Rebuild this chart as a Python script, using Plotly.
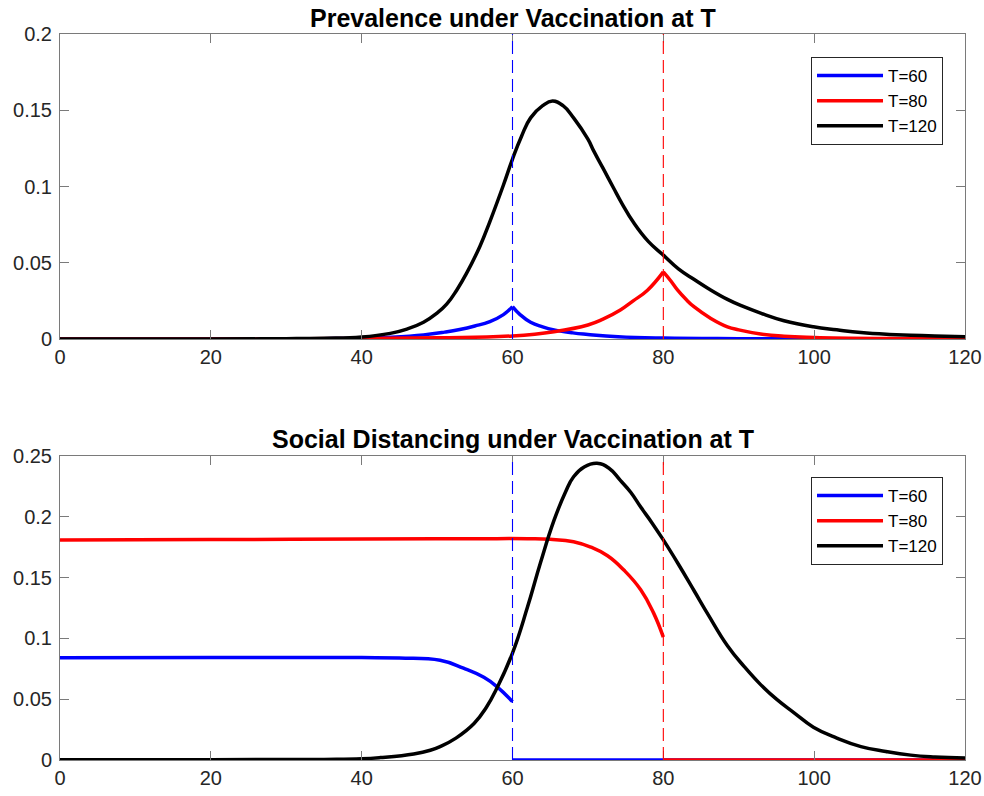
import plotly.graph_objects as go

# ---------------- data ----------------
# Prevalence (top panel)
t_prev_60 = [0, 20, 35, 40, 44, 48.2, 51, 53, 55, 57, 58.8, 60,
             60, 61, 62.4, 64, 65.5, 68, 70, 74, 80, 90, 100, 120]
prev_60 = [0, 0, 0.0002, 0.0005, 0.0012, 0.0027, 0.0045, 0.0062, 0.0085, 0.0114, 0.016, 0.0212,
           0.0212, 0.016, 0.011, 0.008, 0.006, 0.004, 0.003, 0.0015, 0.0006, 0.0002, 0.0001, 0]
split_prev_60 = 12

t_prev_80 = [0, 20, 40, 50, 55, 60, 65.5, 70, 72, 74.3, 76, 77.9, 80,
             80, 81, 81.9, 83, 84.1, 86.3, 88.5, 90, 92.9, 96, 100, 110, 120]
prev_80 = [0, 0, 0.0003, 0.0008, 0.0012, 0.002, 0.0048, 0.0092, 0.013, 0.019, 0.025, 0.032, 0.044,
           0.044, 0.038, 0.032, 0.026, 0.021, 0.0135, 0.008, 0.006, 0.0033, 0.0018, 0.001, 0.0003, 0.0001]
split_prev_80 = 13

t_prev_120 = [0, 20, 30, 35, 40, 43.8, 46, 48.2, 50, 51.3, 52.6, 53.9, 55.7, 57, 58.8, 60, 61.2,
              62.4, 64, 65.3, 66.7, 68.1, 70, 70.8, 72, 73.4, 74.5, 76.1, 78, 80, 82, 84.1, 86,
              88.5, 90.5, 92.9, 96, 99.9, 103, 106.2, 110, 112.8, 116, 120]
prev_120 = [0, 0, 0.0002, 0.0005, 0.0013, 0.0037, 0.0065, 0.011, 0.017, 0.023, 0.032, 0.043,
            0.061, 0.077, 0.101, 0.118, 0.133, 0.145, 0.153, 0.156, 0.153, 0.145, 0.131, 0.123,
            0.112, 0.099, 0.089, 0.076, 0.064, 0.055, 0.046, 0.039, 0.033, 0.026, 0.0215, 0.017,
            0.012, 0.008, 0.006, 0.0042, 0.003, 0.0025, 0.002, 0.0015]

# Social distancing (bottom panel)
t_sd_60 = [0, 20, 40, 45, 50.4, 53.5, 56.2, 58, 60,
           60, 120]
sd_60 = [0.084, 0.0842, 0.0842, 0.0838, 0.082, 0.0755, 0.068, 0.060, 0.048,
         0, 0]
split_sd_60 = 9

t_sd_80 = [0, 20, 40, 55, 62, 65, 68.1, 70.4, 72.6, 74.8, 77, 78.7, 80,
           80, 120]
sd_80 = [0.181, 0.1813, 0.1817, 0.182, 0.182, 0.1815, 0.1795, 0.175, 0.168, 0.156, 0.140, 0.121, 0.101,
         0, 0]
split_sd_80 = 13

t_sd_120 = [0, 20, 35, 40, 42.5, 46.9, 49.1, 50.4, 52.5, 54.9, 56.5, 58, 60, 62, 63.7, 65.5, 67,
            68.1, 69.5, 71.2, 72.8, 74.3, 75.7, 77, 78.5, 80, 82, 84.1, 86, 88.5, 90.7, 92.9,
            95, 97.3, 99.9, 103, 106.2, 109.5, 112.8, 116, 120]
sd_120 = [0.0003, 0.0003, 0.0005, 0.001, 0.002, 0.005, 0.008, 0.011, 0.018, 0.030, 0.043, 0.060,
          0.088, 0.126, 0.162, 0.197, 0.220, 0.233, 0.241, 0.244, 0.240, 0.230, 0.220, 0.208,
          0.195, 0.181, 0.161, 0.139, 0.119, 0.094, 0.077, 0.062, 0.050, 0.039, 0.027, 0.018,
          0.011, 0.007, 0.004, 0.0025, 0.0016]

vacc_times = [60, 80]
vacc_colors = ["#0000ff", "#ff0000"]
names = ["T=60", "T=80", "T=120"]
colors = ["#0000ff", "#ff0000", "#000000"]

x_ticks = [0, 20, 40, 60, 80, 100, 120]
y_ticks_top = [0, 0.05, 0.1, 0.15, 0.2]
y_ticks_bot = [0, 0.05, 0.1, 0.15, 0.2, 0.25]
titles = ["Prevalence under Vaccination at T", "Social Distancing under Vaccination at T"]

# ---------------- figure ----------------
fig = go.Figure()
LW = 3.5
FONT = "Liberation Sans, Arial"


def add_series(t, y, split, color, name, xa, ya, legend):
    segs = [(t, y)] if split is None else [(t[:split], y[:split]), (t[split:], y[split:])]
    for i, (ts, ys) in enumerate(segs):
        fig.add_trace(go.Scatter(
            x=ts, y=ys, mode="lines", name=name,
            line=dict(color=color, width=LW, shape="spline", smoothing=1.3),
            xaxis=xa, yaxis=ya, legend=legend, legendgroup=legend + name,
            showlegend=(i == 0), cliponaxis=False, hoverinfo="skip"))


add_series(t_prev_60, prev_60, split_prev_60, colors[0], names[0], "x", "y", "legend")
add_series(t_prev_80, prev_80, split_prev_80, colors[1], names[1], "x", "y", "legend")
add_series(t_prev_120, prev_120, None, colors[2], names[2], "x", "y", "legend")

add_series(t_sd_60, sd_60, split_sd_60, colors[0], names[0], "x2", "y2", "legend2")
add_series(t_sd_80, sd_80, split_sd_80, colors[1], names[1], "x2", "y2", "legend2")
add_series(t_sd_120, sd_120, None, colors[2], names[2], "x2", "y2", "legend2")

for xr, yr in [("x", "y domain"), ("x2", "y2 domain")]:
    for tv, c in zip(vacc_times, vacc_colors):
        fig.add_shape(type="line", xref=xr, yref=yr, x0=tv, x1=tv, y0=0, y1=1,
                      line=dict(color=c, width=1.1, dash="13px,6px"), layer="above")

axis_common = dict(showgrid=False, zeroline=False, showline=True, linecolor="#7a7a7a",
                   linewidth=1, mirror="ticks", ticks="inside", ticklen=9, tickwidth=1,
                   tickcolor="#7a7a7a", automargin=False,
                   tickfont=dict(family=FONT, size=20, color="#262626"))

TOP_DOM = [0.5799, 1.0]
BOT_DOM = [0.0, 0.4187]

legend_common = dict(xanchor="right", yanchor="top", bgcolor="white",
                     bordercolor="#262626", borderwidth=1, tracegroupgap=0, itemwidth=66,
                     font=dict(family=FONT, size=17, color="#000000"))

fig.update_layout(
    width=984, height=796, autosize=False,
    margin=dict(l=60, r=19, t=34, b=36),
    paper_bgcolor="white", plot_bgcolor="white",
    font=dict(family=FONT, color="#262626"),
    xaxis=dict(domain=[0, 1], anchor="y", range=[0, 120], tickvals=x_ticks, **axis_common),
    yaxis=dict(domain=TOP_DOM, anchor="x", range=[0, 0.2], tickvals=y_ticks_top,
               ticktext=[f"{v:g}" for v in y_ticks_top], ticklabelstandoff=3, **axis_common),
    xaxis2=dict(domain=[0, 1], anchor="y2", range=[0, 120], tickvals=x_ticks, **axis_common),
    yaxis2=dict(domain=BOT_DOM, anchor="x2", range=[0, 0.25], tickvals=y_ticks_bot,
                ticktext=[f"{v:g}" for v in y_ticks_bot], ticklabelstandoff=3, **axis_common),
    legend=dict(x=0.9757, y=0.9683, **legend_common),
    legend2=dict(x=0.9757, y=0.3898, **legend_common),
    showlegend=True,
)

for title, ypix in zip(titles, [18, 439]):
    fig.add_annotation(text=f"<b>{title}</b>", x=0.5, y=(760 - ypix) / 726,
                       xref="paper", yref="paper", xanchor="center", yanchor="middle",
                       showarrow=False,
                       font=dict(family=FONT, size=25, color="#000000"))

fig.write_html("out.html",
               config={"displayModeBar": False},
               post_script="document.body.style.margin='0px';"
                           "document.body.style.overflow='hidden';")
